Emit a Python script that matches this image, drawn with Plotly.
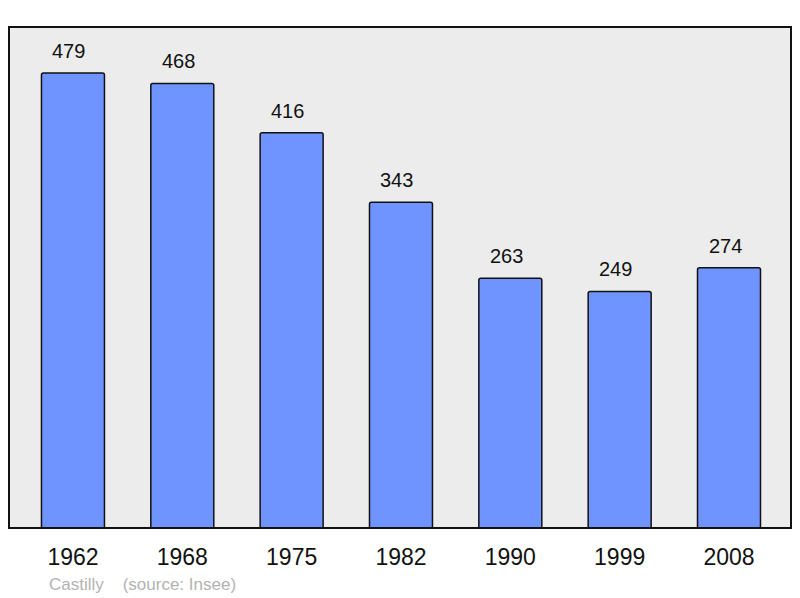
import plotly.graph_objects as go

years = ["1962", "1968", "1975", "1982", "1990", "1999", "2008"]
population = [479, 468, 416, 343, 263, 249, 274]
source_text = "Castilly\u00a0\u00a0\u00a0\u00a0(source: Insee)"

xs = list(range(len(years)))

fig = go.Figure()
fig.add_trace(go.Bar(
    x=xs, y=population, width=0.576,
    marker=dict(color="#7094ff", line=dict(color="#111111", width=1.5), cornerradius=2),
    hoverinfo="skip",
))
for x, v in zip(xs, population):
    fig.add_annotation(x=x, y=v, text=str(v), showarrow=False, yanchor="bottom",
                       yshift=9, xshift=-4,
                       font=dict(family="Liberation Sans, Arial", size=20, color="#111111"))

fig.add_annotation(xref="paper", yref="paper", x=(47 - 9) / 782, y=-(584 - 528) / 501,
                   xanchor="left", yanchor="middle", text=source_text, showarrow=False,
                   font=dict(family="Liberation Sans, Arial", size=17, color="#b3b3b3"))

fig.add_shape(type="rect", xref="paper", yref="paper", x0=0, y0=0, x1=1, y1=1,
              line=dict(color="#111111", width=2), layer="above")

fig.update_layout(
    width=800, height=598,
    margin=dict(l=9, r=9, t=27, b=70),
    paper_bgcolor="white", plot_bgcolor="#ececec",
    showlegend=False,
    xaxis=dict(range=[-0.585, 6.567], tickvals=xs, ticktext=years, showgrid=False,
               zeroline=False, ticks="", ticklabelstandoff=13,
               tickfont=dict(family="Liberation Sans, Arial", size=23, color="#111111")),
    yaxis=dict(range=[0, 527.4], showgrid=False, zeroline=False, showticklabels=False, ticks=""),
)
fig.write_html("out.html", config={"displayModeBar": False},
               post_script="document.body.style.margin='0px';document.body.style.overflow='hidden';")
